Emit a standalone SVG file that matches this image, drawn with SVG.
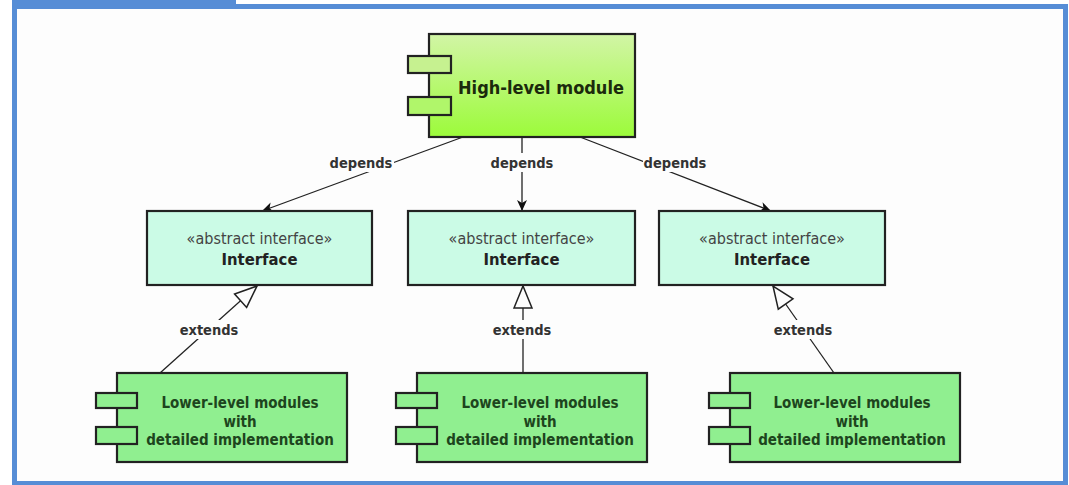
<svg xmlns="http://www.w3.org/2000/svg" width="1069" height="485" viewBox="0 0 1069 485">
<style>
.frame{fill:#fdfdfd;stroke:#568dd6;stroke-width:5}
.box{stroke:#222;stroke-width:2.2}
.iface{fill:#cbfbe6}
.low{fill:#90ef90}
.conn{stroke:#222;stroke-width:1.3;fill:none}
.lblbg{fill:#fdfdfd}
text{font-family:"DejaVu Sans Condensed","DejaVu Sans",sans-serif;text-anchor:middle}
.lbl{font-size:14.5px;font-weight:bold;fill:#333}
.stereo{font-size:16px;fill:#444}
.iname{font-size:16.5px;font-weight:bold;fill:#222}
.hname{font-size:18px;font-weight:bold;fill:#1b2a0c}
.lname{font-size:15px;font-weight:bold;fill:#1d451d}
</style>
<defs>
<linearGradient id="hg" x1="0" y1="0" x2="0" y2="1">
<stop offset="0" stop-color="#d2f5a6"/>
<stop offset="1" stop-color="#9cfb3a"/>
</linearGradient>
<marker id="filled" markerUnits="userSpaceOnUse" markerWidth="12" markerHeight="10" refX="11" refY="5" orient="auto" overflow="visible">
<path d="M0,0 L11,5 L0,10 L3,5 z" fill="#111"/>
</marker>
<marker id="hollow" markerUnits="userSpaceOnUse" markerWidth="24" markerHeight="20" refX="23" refY="9" orient="auto" overflow="visible">
<path d="M1,0 L23,9 L1,18 z" fill="#fdfdfd" stroke="#222" stroke-width="1.5"/>
</marker>
</defs>
<rect x="14.5" y="6.5" width="1051" height="477" class="frame"/>
<rect x="12" y="0" width="224" height="6" fill="#568dd6"/>
<g id="connectors">
<line class="conn" x1="463" y1="137" x2="262" y2="211" marker-end="url(#filled)"/>
<line class="conn" x1="522" y1="137" x2="522" y2="211" marker-end="url(#filled)"/>
<line class="conn" x1="580" y1="137" x2="771" y2="211" marker-end="url(#filled)"/>
<line class="conn" x1="160" y1="373" x2="257" y2="286" marker-end="url(#hollow)"/>
<line class="conn" x1="523" y1="373" x2="523" y2="286" marker-end="url(#hollow)"/>
<line class="conn" x1="834" y1="373" x2="773" y2="286" marker-end="url(#hollow)"/>
<rect class="lblbg" x="328" y="153" width="66" height="19"/>
<text class="lbl" x="361" y="168">depends</text>
<rect class="lblbg" x="489" y="153" width="66" height="19"/>
<text class="lbl" x="522" y="168">depends</text>
<rect class="lblbg" x="643" y="153" width="65" height="19"/>
<text class="lbl" x="675" y="168">depends</text>
<rect class="lblbg" x="179" y="320" width="61" height="19"/>
<text class="lbl" x="209" y="335">extends</text>
<rect class="lblbg" x="492" y="320" width="61" height="19"/>
<text class="lbl" x="522" y="335">extends</text>
<rect class="lblbg" x="773" y="320" width="61" height="19"/>
<text class="lbl" x="803" y="335">extends</text>
</g>
<g id="high-level-module">
<rect class="box" x="429" y="34" width="206" height="103" fill="url(#hg)"/>
<rect class="box" x="408" y="56" width="43" height="17" fill="#c6f190"/>
<rect class="box" x="408" y="97" width="43" height="18" fill="#b0f66a"/>
<text class="hname" x="541" y="94">High-level module</text>
</g>
<g id="interface-left">
<rect class="box iface" x="147" y="211" width="225" height="74"/>
<text class="stereo" x="259.5" y="244">«abstract interface»</text>
<text class="iname" x="259.5" y="265">Interface</text>
</g>
<g id="interface-middle">
<rect class="box iface" x="408" y="211" width="227" height="74"/>
<text class="stereo" x="521.5" y="244">«abstract interface»</text>
<text class="iname" x="521.5" y="265">Interface</text>
</g>
<g id="interface-right">
<rect class="box iface" x="659" y="211" width="226" height="74"/>
<text class="stereo" x="772" y="244">«abstract interface»</text>
<text class="iname" x="772" y="265">Interface</text>
</g>
<g id="lower-left">
<rect class="box low" x="117" y="373" width="230" height="89"/>
<rect class="box low" x="96" y="393" width="41" height="15"/>
<rect class="box low" x="96" y="427" width="41" height="17"/>
<text class="lname" x="240" y="408">Lower-level modules</text>
<text class="lname" x="240" y="427">with</text>
<text class="lname" x="240" y="445">detailed implementation</text>
</g>
<g id="lower-middle">
<rect class="box low" x="417" y="373" width="230" height="89"/>
<rect class="box low" x="396" y="393" width="41" height="15"/>
<rect class="box low" x="396" y="427" width="41" height="17"/>
<text class="lname" x="540" y="408">Lower-level modules</text>
<text class="lname" x="540" y="427">with</text>
<text class="lname" x="540" y="445">detailed implementation</text>
</g>
<g id="lower-right">
<rect class="box low" x="730" y="373" width="230" height="89"/>
<rect class="box low" x="709" y="393" width="41" height="15"/>
<rect class="box low" x="709" y="427" width="41" height="17"/>
<text class="lname" x="852" y="408">Lower-level modules</text>
<text class="lname" x="852" y="427">with</text>
<text class="lname" x="852" y="445">detailed implementation</text>
</g>
</svg>
